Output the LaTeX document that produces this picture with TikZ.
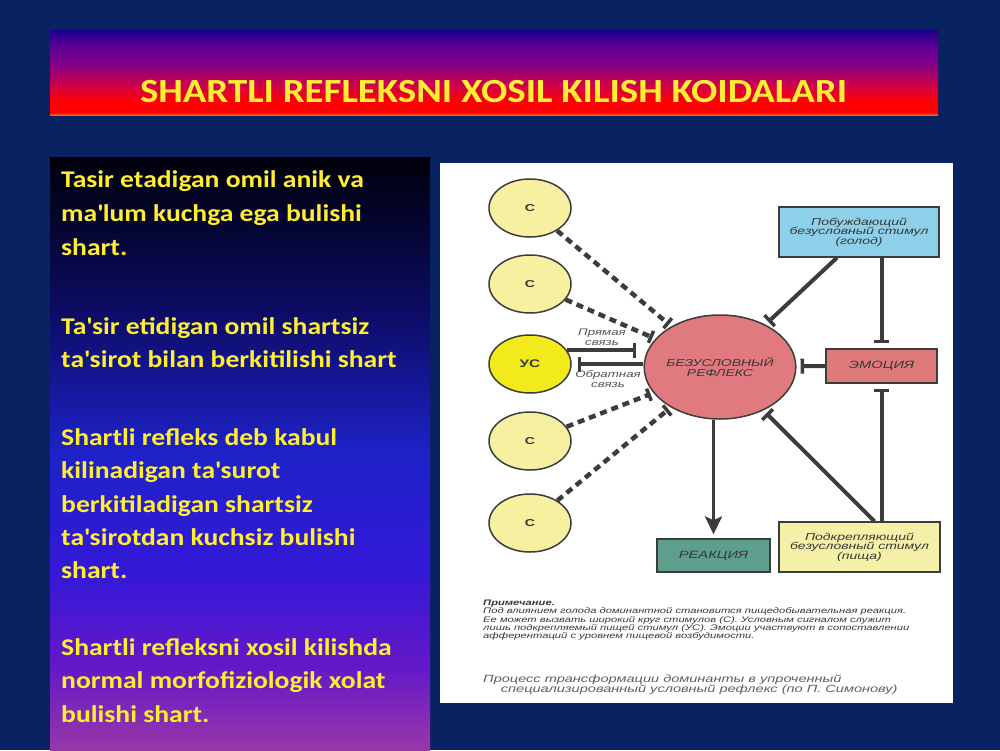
\documentclass[tikz,border=0pt]{standalone}
\usepackage{fontspec}
\setmainfont[FakeStretch=1.15]{Carlito}
\newfontfamily\dg[FakeStretch=1.4]{Liberation Sans}
\newcommand\aq{\textquotesingle}
\usetikzlibrary{arrows.meta,shapes.geometric,calc}
\definecolor{bg}{RGB}{8,34,98}
\definecolor{ytxt}{RGB}{255,238,50}
\definecolor{tOr}{RGB}{230,110,30}
\definecolor{tRed}{RGB}{255,0,0}
\definecolor{tMag}{RGB}{210,0,70}
\definecolor{tPur}{RGB}{130,0,135}
\definecolor{tVio}{RGB}{90,0,150}
\definecolor{tBlu}{RGB}{25,0,140}
\definecolor{lT}{RGB}{0,0,10}
\definecolor{l5}{RGB}{12,12,100}
\definecolor{l4}{RGB}{30,34,200}
\definecolor{l3}{RGB}{52,24,216}
\definecolor{l2}{RGB}{100,24,200}
\definecolor{lB}{RGB}{152,56,168}
\definecolor{lc}{RGB}{60,60,60}
\definecolor{tg}{RGB}{55,55,55}
\definecolor{cpale}{RGB}{246,240,160}
\definecolor{cus}{RGB}{242,234,26}
\definecolor{refc}{RGB}{224,122,126}
\definecolor{bluec}{RGB}{142,208,234}
\definecolor{emoc}{RGB}{222,122,122}
\definecolor{reacc}{RGB}{94,158,140}
\definecolor{podc}{RGB}{244,240,168}
\pgfdeclareverticalshading{titleshade}{100bp}{color(0bp)=(tOr); color(25bp)=(tOr); color(26.5bp)=(tRed); color(33bp)=(tRed); color(42bp)=(tMag); color(55bp)=(tPur); color(66bp)=(tVio); color(75bp)=(tBlu); color(100bp)=(tBlu)}
\pgfdeclareverticalshading{leftshade}{100bp}{color(0bp)=(lB); color(25bp)=(lB); color(32bp)=(l2); color(40bp)=(l3); color(50bp)=(l4); color(62bp)=(l5); color(75bp)=(lT); color(100bp)=(lT)}
\tikzset{
  lt/.style={anchor=base west, inner sep=0pt, text=ytxt, font=\fontsize{24}{24}\selectfont\bfseries},
  cs/.style={ellipse, draw=lc, line width=1.5pt, fill=cpale, minimum width=82pt, minimum height=58pt, inner sep=0pt, text=tg, font=\dg\bfseries\fontsize{10}{10}\selectfont},
  bx/.style={rectangle, draw=lc, line width=1.3pt, inner sep=0pt, align=center, text=tg, font=\dg\itshape\fontsize{10}{9.5}\selectfont},
  lbl/.style={inner sep=0pt, align=center, text=tg!85!white, font=\dg\itshape\fontsize{9.5}{10}\selectfont},
  nt/.style={anchor=base west, inner sep=0pt, text=tg, font=\dg\itshape\fontsize{8}{8}\selectfont},
  pc/.style={anchor=base west, inner sep=0pt, text=tg!80!white, font=\dg\itshape\fontsize{10.4}{10.4}\selectfont},
  inh/.style={draw=lc, line width=4pt, -{Bar[width=15pt,line width=3.5pt]}},
  dinh/.style={draw=lc, dash pattern=on 7pt off 5pt, line width=4.5pt, -{Bar[width=13pt,line width=3.5pt]}},
  arr/.style={draw=lc, line width=3.5pt, -{Stealth[length=18pt,width=17pt,inset=4pt]}}
}
\begin{document}
\begin{tikzpicture}[x=1pt,y=-1pt]
\useasboundingbox (0,0) rectangle (1000,750);
\fill[bg] (0,0) rectangle (1000,750);
% title band
\shade[shading=titleshade] (50,30) rectangle (938,115);
\node[anchor=base, inner sep=0pt, text=ytxt, font=\fontsize{33.8}{33.8}\selectfont\bfseries] (title) at (493.5,102) {SHARTLI REFLEKSNI XOSIL KILISH KOIDALARI};
% left panel
\shade[shading=leftshade] (50,157) rectangle (430,750);
\node[lt] (a1) at (61,187) {Tasir etadigan omil anik va};
\node[lt] (a2) at (61,221) {ma\aq lum kuchga ega bulishi};
\node[lt] (a3) at (61,255) {shart.};
\node[lt] (b1) at (61,334) {Ta\aq sir etidigan omil shartsiz};
\node[lt] (b2) at (61,367) {ta\aq sirot bilan berkitilishi shart};
\node[lt] (c1t) at (61,445) {Shartli refleks deb kabul};
\node[lt] (c2t) at (61,478) {kilinadigan ta\aq surot};
\node[lt] (c3t) at (61,512) {berkitiladigan shartsiz};
\node[lt] (c4t) at (61,545) {ta\aq sirotdan kuchsiz bulishi};
\node[lt] (c5t) at (61,578) {shart.};
\node[lt] (d1) at (61,655) {Shartli refleksni xosil kilishda};
\node[lt] (d2) at (61,688) {normal morfofiziologik xolat};
\node[lt] (d3) at (61,722) {bulishi shart.};
% right panel
\fill[white] (440,163) rectangle (953,703);
% diagram nodes
\node[cs] (c1) at (530,208) {С};
\node[cs] (c2) at (530,284) {С};
\node[cs, fill=cus, font=\dg\bfseries\fontsize{11}{11}\selectfont] (us) at (530,364) {УС};
\node[cs] (c4) at (530,441) {С};
\node[cs] (c5) at (530,523) {С};
\node[ellipse, draw=lc, line width=1.5pt, fill=refc, minimum width=148pt, minimum height=104pt, inner sep=0pt, align=center, text=tg, font=\dg\itshape\fontsize{10}{10}\selectfont] (ref) at (720,367) {БЕЗУСЛОВНЫЙ\\РЕФЛЕКС};
\node[bx, fill=bluec, minimum width=160pt, minimum height=50pt] (blue) at (859,232) {Побуждающий\\безусловный стимул\\(голод)};
\node[bx, fill=emoc, minimum width=111pt, minimum height=34pt, font=\dg\itshape\fontsize{10.5}{10.5}\selectfont] (emo) at (881.5,366) {ЭМОЦИЯ};
\node[bx, fill=reacc, minimum width=113pt, minimum height=33pt, font=\dg\itshape\fontsize{10.5}{10.5}\selectfont] (reac) at (713.5,555.5) {РЕАКЦИЯ};
\node[bx, fill=podc, minimum width=161pt, minimum height=50pt] (pod) at (859.5,547) {Подкрепляющий\\безусловный стимул\\(пища)};
% connectors
\draw[dinh, shorten >=3pt] (c1) -- (ref);
\draw[dinh, shorten >=3pt] (c2) -- (ref);
\draw[dinh, shorten >=3pt] (c4) -- (ref);
\draw[dinh, shorten >=3pt] (c5) -- (ref);
\draw[inh, shorten >=7pt] (us.20) -- (us.20 -| ref.west);
\draw[inh, shorten >=6pt] (ref.west |- us.east) -- (us.east);
\draw[inh, shorten >=4pt] ($(blue.south)+(-22,0)$) -- (ref);
\draw[inh, shorten >=5pt] (blue.south -| emo) -- (emo.north);
\draw[inh, shorten >=5pt] (pod.north -| emo) -- (emo.south);
\draw[inh, shorten >=4pt] ($(pod.north)+(15,0)$) -- (ref);
\draw[inh, shorten >=4pt] (emo.west) -- (ref);
\draw[arr, shorten >=4pt] (ref.south -| reac) -- (reac.north);
\node[lbl] (pr) at (602,337.5) {Прямая\\связь};
\node[lbl] (ob) at (608,379) {Обратная\\связь};
% notes
\node[nt, font=\dg\itshape\bfseries\fontsize{8}{8}\selectfont] (n0) at (483,605.3) {Примечание.};
\node[nt] (n1) at (483,613.7) {Под влиянием голода доминантной становится пищедобывательная реакция.};
\node[nt] (n2) at (483,622) {Ее может вызвать широкий круг стимулов (С). Условным сигналом служит};
\node[nt] (n3) at (483,630.3) {лишь подкрепляемый пищей стимул (УС). Эмоции участвуют в сопоставлении};
\node[nt] (n4) at (483,638.7) {афферентаций с уровнем пищевой возбудимости.};
\node[pc] (p1) at (483,682.7) {Процесс трансформации доминанты в упроченный};
\node[pc] (p2) at (500.7,692.7) {специализированный условный рефлекс (по П. Симонову)};
\end{tikzpicture}
\end{document}
